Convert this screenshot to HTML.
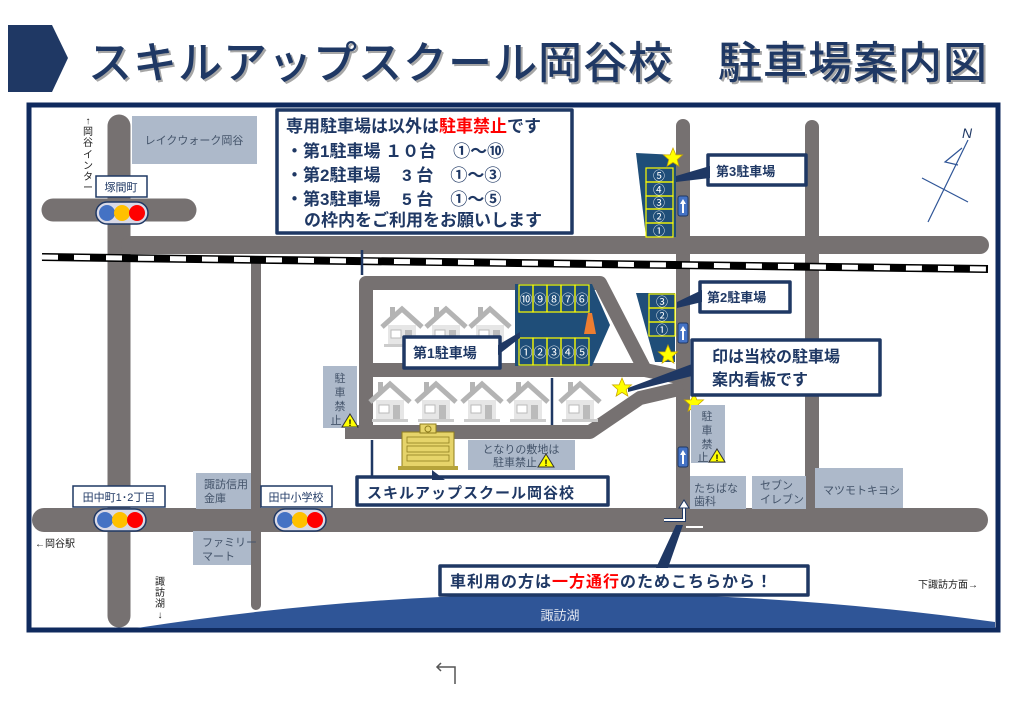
<!DOCTYPE html>
<html><head><meta charset="utf-8"><style>
html,body{margin:0;padding:0;background:#fff;}
svg{display:block;font-family:"Liberation Sans","Noto Sans CJK JP",sans-serif;}
</style></head><body>
<svg width="1024" height="709" viewBox="0 0 1024 709" xmlns="http://www.w3.org/2000/svg">
<defs>
<g id="house">
<path d="M0 22 L20 4 L40 22" fill="none" stroke="#b4b4b4" stroke-width="5"/>
<rect x="6" y="20" width="28" height="20" fill="#e6e6e6"/>
<rect x="9" y="25" width="10" height="8" fill="#fff" stroke="#bbb"/>
<rect x="23" y="25" width="7" height="15" fill="#bbb"/>
<rect x="2" y="39" width="36" height="3" fill="#ccc"/>
<rect x="8" y="2" width="5" height="10" fill="#b4b4b4"/>
</g>
<g id="light">
<rect x="-26" y="-11" width="52" height="22" rx="11" fill="#d9d9e6" stroke="#1f3864" stroke-width="1.5"/>
<circle cx="-15" cy="0" r="8" fill="#4472c4"/>
<circle cx="0" cy="0" r="8" fill="#ffc000"/>
<circle cx="15" cy="0" r="8" fill="#ff0000"/>
</g>
<polygon id="star" points="0,-10 2.9,-3.1 9.5,-3.1 4.2,1.6 5.9,8.1 0,4.4 -5.9,8.1 -4.2,1.6 -9.5,-3.1 -2.9,-3.1" fill="#ffff00" stroke="#c9a800" stroke-width="0.8"/>
<g id="warn"><polygon points="0,-7 8,6 -8,6" fill="#ffff00" stroke="#333" stroke-width="1"/><text x="0" y="5" font-size="9" text-anchor="middle" font-weight="bold">!</text></g>
<g id="ow"><rect x="-5" y="-10" width="10" height="20" rx="2" fill="#4472c4" stroke="#1f3864"/><path d="M0 -7 L3 -2 L1 -2 L1 7 L-1 7 L-1 -2 L-3 -2 Z" fill="#fff"/></g>
</defs>

<!-- title -->
<polygon points="8,25 52,25 68,58 52,92 8,92" fill="#1f3864"/>
<text x="90" y="80" font-size="44" fill="#a6a6a6" font-weight="500" letter-spacing="1">スキルアップスクール岡谷校　駐車場案内図</text>
<text x="88" y="78" font-size="44" fill="#1f3864" font-weight="500" letter-spacing="1">スキルアップスクール岡谷校　駐車場案内図</text>

<!-- frame -->
<rect x="29" y="105" width="969" height="525" fill="#fff" stroke="#0f2a5e" stroke-width="5"/>

<!-- lake -->
<path d="M137 628 Q560 562 995 622 L995 628 Z" fill="#2f5597"/>
<text x="560" y="620" font-size="13" fill="#fff" text-anchor="middle" opacity="0.85">諏訪湖</text>

<!-- roads -->
<g stroke="#767171" stroke-linecap="round" fill="none">
<line x1="119" y1="126" x2="119" y2="616" stroke-width="23"/>
<line x1="53" y1="210" x2="185" y2="210" stroke-width="23"/>
<line x1="130" y1="245" x2="980" y2="245" stroke-width="18"/>
<line x1="256" y1="262" x2="256" y2="605" stroke-width="10"/>
<line x1="683" y1="126" x2="683" y2="520" stroke-width="14"/>
<line x1="812" y1="127" x2="812" y2="245" stroke-width="14"/>
<line x1="812" y1="245" x2="812" y2="510" stroke-width="14"/>
<line x1="44" y1="520" x2="976" y2="520" stroke-width="24"/>
</g>
<!-- railroad -->
<line x1="42" y1="257" x2="988" y2="269" stroke="#000" stroke-width="8"/>
<line x1="42" y1="257" x2="988" y2="269" stroke="#fff" stroke-width="5" stroke-dasharray="16,16"/>

<!-- school loop -->
<g stroke="#767171" stroke-width="14" fill="none" stroke-linejoin="round">
<path d="M366 432 L366 283 L600 283 L645 370 L366 370"/>
<path d="M645 370 L683 378"/>
<path d="M345 432 L590 432 L640 398 L683 388"/>
</g>
<g stroke="#1f3864" stroke-width="2.5">
<line x1="362" y1="250" x2="362" y2="275"/>
<line x1="372" y1="440" x2="372" y2="505"/>
<line x1="552" y1="378" x2="552" y2="425"/>
</g>

<!-- houses -->
<use href="#house" x="382" y="305"/><use href="#house" x="426" y="305"/><use href="#house" x="470" y="305"/>
<use href="#house" x="370" y="380"/><use href="#house" x="416" y="380"/><use href="#house" x="462" y="380"/><use href="#house" x="508" y="380"/><use href="#house" x="560" y="380"/>

<!-- parking 1 -->
<polygon points="515,284 592,284 610,325 592,366 515,366" fill="#1f4e79"/>
<g stroke="#ffff00" stroke-width="1.2" fill="none">
<rect x="519" y="285" width="14" height="27"/><rect x="533" y="285" width="14" height="27"/><rect x="547" y="285" width="14" height="27"/><rect x="561" y="285" width="14" height="27"/><rect x="575" y="285" width="14" height="27"/>
<rect x="519" y="338" width="14" height="27"/><rect x="533" y="338" width="14" height="27"/><rect x="547" y="338" width="14" height="27"/><rect x="561" y="338" width="14" height="27"/><rect x="575" y="338" width="14" height="27"/>
</g>
<g fill="#fff" font-size="13" text-anchor="middle">
<text x="526" y="304">⑩</text><text x="540" y="304">⑨</text><text x="554" y="304">⑧</text><text x="568" y="304">⑦</text><text x="582" y="304">⑥</text>
<text x="526" y="357">①</text><text x="540" y="357">②</text><text x="554" y="357">③</text><text x="568" y="357">④</text><text x="582" y="357">⑤</text>
</g>
<polygon points="588,313 592,313 596,334 584,334" fill="#ed7d31"/>
<!-- parking 2 -->
<polygon points="636,293 675,293 675,362 655,362" fill="#1f4e79"/>
<g stroke="#ffff00" stroke-width="1.2" fill="none"><rect x="649" y="294" width="26" height="14"/><rect x="649" y="308" width="26" height="14"/><rect x="649" y="322" width="26" height="14"/></g>
<g fill="#fff" font-size="12" text-anchor="middle"><text x="662" y="306">③</text><text x="662" y="320">②</text><text x="662" y="334">①</text></g>
<!-- parking 3 -->
<polygon points="636,153 676,155 676,237 646,237" fill="#1f4e79"/>
<g stroke="#ffff00" stroke-width="1.2" fill="none"><rect x="646" y="168" width="27" height="14"/><rect x="646" y="182" width="27" height="14"/><rect x="646" y="196" width="27" height="13"/><rect x="646" y="209" width="27" height="14"/><rect x="646" y="223" width="27" height="14"/></g>
<g fill="#fff" font-size="12" text-anchor="middle"><text x="659" y="180">⑤</text><text x="659" y="194">④</text><text x="659" y="207">③</text><text x="659" y="221">②</text><text x="659" y="235">①</text></g>

<use href="#ow" x="683" y="206"/><use href="#ow" x="683" y="333"/><use href="#ow" x="683" y="457"/>

<!-- stars -->
<use href="#star" x="673" y="158"/><use href="#star" x="668" y="355"/><use href="#star" x="622" y="388"/><use href="#star" x="694" y="403"/>

<!-- gray boxes -->
<g fill="#adb9ca">
<rect x="132" y="116" width="125" height="48"/>
<rect x="323" y="366" width="34" height="62"/>
<rect x="468" y="440" width="107" height="30"/>
<rect x="691" y="405" width="34" height="58"/>
<rect x="690" y="476" width="56" height="33"/>
<rect x="752" y="476" width="54" height="33"/>
<rect x="815" y="468" width="88" height="40"/>
<rect x="196" y="473" width="55" height="36"/>
<rect x="193" y="531" width="58" height="34"/>
</g>
<g fill="#44546a" font-size="11">
<text x="194" y="144" text-anchor="middle">レイクウォーク岡谷</text>
<text x="340" y="382" text-anchor="middle">駐</text><text x="340" y="396" text-anchor="middle">車</text><text x="340" y="410" text-anchor="middle">禁</text><text x="336" y="424" text-anchor="middle">止</text>
<text x="521" y="453" text-anchor="middle">となりの敷地は</text><text x="515" y="466" text-anchor="middle">駐車禁止</text>
<text x="707" y="420" text-anchor="middle">駐</text><text x="707" y="434" text-anchor="middle">車</text><text x="707" y="448" text-anchor="middle">禁</text><text x="703" y="461" text-anchor="middle">止</text>
<text x="694" y="492">たちばな</text><text x="694" y="505">歯科</text>
<text x="760" y="489">セブン</text><text x="760" y="503">イレブン</text>
<text x="823" y="494">マツモトキヨシ</text>
<text x="204" y="488">諏訪信用</text><text x="204" y="502">金庫</text>
<text x="202" y="546">ファミリー</text><text x="202" y="560">マート</text>
</g>
<use href="#warn" x="350" y="421"/><use href="#warn" x="546" y="461"/><use href="#warn" x="717" y="456"/>

<!-- school -->
<g>
<rect x="402" y="432" width="52" height="36" fill="#e6d46a" stroke="#8f7d1e"/>
<rect x="420" y="424" width="16" height="9" fill="#e6d46a" stroke="#8f7d1e"/>
<circle cx="428" cy="429" r="3" fill="none" stroke="#8f7d1e"/>
<g fill="none" stroke="#8f7d1e" stroke-width="0.8">
<rect x="407" y="437" width="42" height="6"/><rect x="407" y="446" width="42" height="6"/><rect x="407" y="455" width="42" height="6"/>
</g>
<rect x="398" y="466" width="60" height="4" fill="#b5a33a"/>
</g>

<!-- traffic lights + labels -->
<use href="#light" x="122" y="213"/><use href="#light" x="120" y="520"/><use href="#light" x="300" y="520"/>
<g fill="#fff" stroke="#1f3864" stroke-width="1.5">
<rect x="96" y="176" width="51" height="21"/><rect x="73" y="486" width="92" height="21"/><rect x="261" y="486" width="71" height="21"/>
</g>
<g fill="#1f3864" font-size="11" text-anchor="middle">
<text x="121" y="191">塚間町</text><text x="119" y="501">田中町1･2丁目</text><text x="296" y="501">田中小学校</text>
</g>

<!-- side text -->
<g fill="#222" font-size="10">
<text x="35" y="547">←岡谷駅</text>
<text x="918" y="588">下諏訪方面→</text>
</g>
<g fill="#222" font-size="10" text-anchor="middle">
<text x="88" y="124">↑</text><text x="88" y="135">岡</text><text x="88" y="146">谷</text><text x="88" y="158">イ</text><text x="88" y="169">ン</text><text x="88" y="180">タ</text><text x="88" y="191">ー</text>
<text x="160" y="585">諏</text><text x="160" y="596">訪</text><text x="160" y="607">湖</text><text x="160" y="618">↓</text>
</g>

<!-- north -->
<g stroke="#2f5597" stroke-width="1.2" fill="none">
<line x1="928" y1="222" x2="968" y2="140"/>
<path d="M962 148 L945 162 L958 165"/>
<line x1="922" y1="178" x2="968" y2="202"/>
</g>
<text x="962" y="138" font-size="14" fill="#1f3864" font-style="italic">N</text>

<!-- callouts -->
<g stroke="#1f3864" stroke-width="3.5" fill="#fff" stroke-linejoin="round">
<rect x="277" y="110" width="295" height="123"/>
<rect x="708" y="155" width="98" height="30"/>
<rect x="700" y="282" width="90" height="30"/>
<rect x="404" y="337" width="96" height="31"/>
<rect x="692" y="340" width="188" height="55"/>
<rect x="357" y="477" width="251" height="28"/>
<rect x="440" y="566" width="368" height="29"/>
</g>
<g fill="#1f3864">
<polygon points="676,176 710,166 710,178 676,182"/>
<polygon points="677,302 702,290 702,302 677,308"/>
<polygon points="498,345 520,332 520,338 498,355"/>
<polygon points="628,388 692,364 692,376 628,392"/>
<polygon points="432,470 445,480 432,480"/>
<polygon points="656,568 676,525 683,525 668,568"/>
</g>
<g fill="#1f3864" font-size="17" font-weight="bold">
<text x="286" y="132">専用駐車場は以外は<tspan fill="#ff0000">駐車禁止</tspan>です</text>
<text x="286" y="157">・第1駐車場 １０台　①～⑩</text>
<text x="286" y="181">・第2駐車場　 3 台　①～③</text>
<text x="286" y="205">・第3駐車場　 5 台　①～⑤</text>
<text x="304" y="226">の枠内をご利用をお願いします</text>
<text x="716" y="176" font-size="13">第3駐車場</text>
<text x="707" y="302" font-size="13">第2駐車場</text>
<text x="413" y="358" font-size="14">第1駐車場</text>
<text x="712" y="362" font-size="16">印は当校の駐車場</text>
<text x="712" y="385" font-size="16">案内看板です</text>
<text x="367" y="498" font-size="15" letter-spacing="1">スキルアップスクール岡谷校</text>
<text x="450" y="587" font-size="16" letter-spacing="1">車利用の方は<tspan fill="#ff0000">一方通行</tspan>のためこちらから！</text>
</g>

<!-- one-way road arrow -->
<path d="M664 520 L684 520 L684 506" fill="none" stroke="#1f3864" stroke-width="4"/>
<path d="M664 520 L684 520 L684 506" fill="none" stroke="#fff" stroke-width="2"/>
<path d="M686 527 L703 527" stroke="#fff" stroke-width="2"/>
<polygon points="684,500 679,508 689,508" fill="#fff" stroke="#1f3864"/>

<!-- bottom small icon -->
<path d="M437 667 L455 667 L455 684" fill="none" stroke="#555" stroke-width="1.5"/>
<path d="M441 663 L437 667 L441 671" fill="none" stroke="#555" stroke-width="1.5"/>
</svg>
</body></html>
